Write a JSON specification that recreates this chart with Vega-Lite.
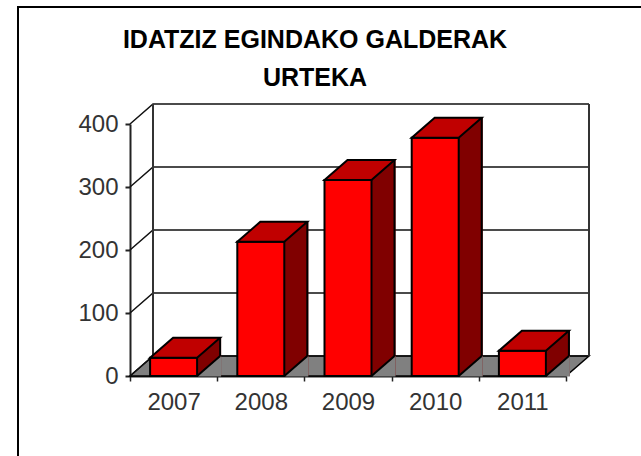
{
"$schema":"https://vega.github.io/schema/vega-lite/v6.json",
"width":436,"height":252,"autosize":"none",
"padding":{"left":130,"top":124,"right":75,"bottom":80},
"background":"white",
"view":{"stroke":null},
"config":{"font":"Liberation Sans"},
"title":{"text":["IDATZIZ EGINDAKO GALDERAK","URTEKA"],"anchor":"middle","dx":-33,"dy":88,"offset":0,"fontSize":25,"fontWeight":"bold","lineHeight":38,"color":"#000000","font":"Liberation Sans"},
"datasets":{
"bars":[{"year":"2007","value":29},{"year":"2008","value":213},{"year":"2009","value":311},{"year":"2010","value":378},{"year":"2011","value":40}],
"ticks":[{"tick":0},{"tick":100},{"tick":200},{"tick":300},{"tick":400}],
"base":[{"tick":0}],
"top":[{"tick":400}]
},
"layer":[
{"data":{"name":"top"},"mark":{"type":"point","shape":"M-330,332V-117H293","size":4,"filled":false,"stroke":"#000000","strokeWidth":2,"opacity":1},
 "encoding":{"y":{"field":"tick","type":"quantitative","scale":{"domain":[0,400],"nice":false},"axis":{"values":[0,100,200,300,400],"title":null,"grid":false,"domainColor":"#222222","domainWidth":2,"tickColor":"#222222","tickSize":5,"tickWidth":2,"labelFontSize":24,"labelColor":"#333333","labelPadding":7,"labelFont":"Liberation Sans"}}}},
{"data":{"name":"base"},"mark":{"type":"point","shape":"M-218,0L-195,-20L241,-20L218,0Z","size":4,"filled":true,"fill":"#808080","stroke":"#000000","strokeWidth":1.5,"opacity":1},
 "encoding":{"y":{"field":"tick","type":"quantitative"}}},
{"data":{"name":"ticks"},"mark":{"type":"point","shape":"M-218,0L-195,-20L241,-20","size":4,"filled":false,"stroke":"#111111","strokeWidth":1.5,"opacity":1},
 "encoding":{"y":{"field":"tick","type":"quantitative"}}},
{"data":{"name":"base"},"mark":{"type":"point","shape":"M-195,-20V-272M241,-20V-272","size":4,"filled":false,"stroke":"#333333","strokeWidth":2,"opacity":1},
 "encoding":{"y":{"field":"tick","type":"quantitative"}}},
{"data":{"name":"bars"},"mark":{"type":"bar","width":24,"xOffset":35.5,"yOffset":-20,"y2Offset":0,"fill":"#800000"},
 "encoding":{"x":{"field":"year","type":"nominal","scale":{"type":"band","paddingInner":0,"paddingOuter":0},"axis":{"title":null,"labelAngle":0,"domain":true,"domainColor":"#222222","domainWidth":2,"tickBand":"extent","tickColor":"#222222","tickSize":5,"tickWidth":1.5,"labelFontSize":24,"labelColor":"#333333","labelPadding":9,"labelFont":"Liberation Sans"}},
 "y":{"field":"value","type":"quantitative"},"y2":{"datum":0}}},
{"data":{"name":"bars"},"mark":{"type":"point","shape":"M23.5,0L47.5,-20L47.5,0.5L23.5,0.5Z","size":4,"filled":true,"fill":"#808080","strokeWidth":0,"opacity":1},
 "encoding":{"x":{"field":"year","type":"nominal"},"y":{"datum":0}}},
{"data":{"name":"bars"},"mark":{"type":"point","shape":"M23.5,0L46.5,-20","size":4,"filled":false,"stroke":"#000000","strokeWidth":2,"opacity":1},
 "encoding":{"x":{"field":"year","type":"nominal"},"y":{"datum":0}}},
{"data":{"name":"bars"},"mark":{"type":"rule","xOffset":46.5,"yOffset":-20,"y2Offset":-20,"stroke":"#000000","strokeWidth":2},
 "encoding":{"x":{"field":"year","type":"nominal"},"y":{"field":"value","type":"quantitative"},"y2":{"datum":0}}},
{"data":{"name":"bars"},"mark":{"type":"bar","width":47,"fill":"#ff0000","stroke":"#000000","strokeWidth":2},
 "encoding":{"x":{"field":"year","type":"nominal"},"y":{"field":"value","type":"quantitative"},"y2":{"datum":0}}},
{"data":{"name":"bars"},"mark":{"type":"point","shape":"M-23.5,0L23.5,0L46.5,-20L-0.5,-20Z","size":4,"filled":true,"fill":"#c00000","stroke":"#000000","strokeWidth":2,"opacity":1},
 "encoding":{"x":{"field":"year","type":"nominal"},"y":{"field":"value","type":"quantitative"}}}
]
}
